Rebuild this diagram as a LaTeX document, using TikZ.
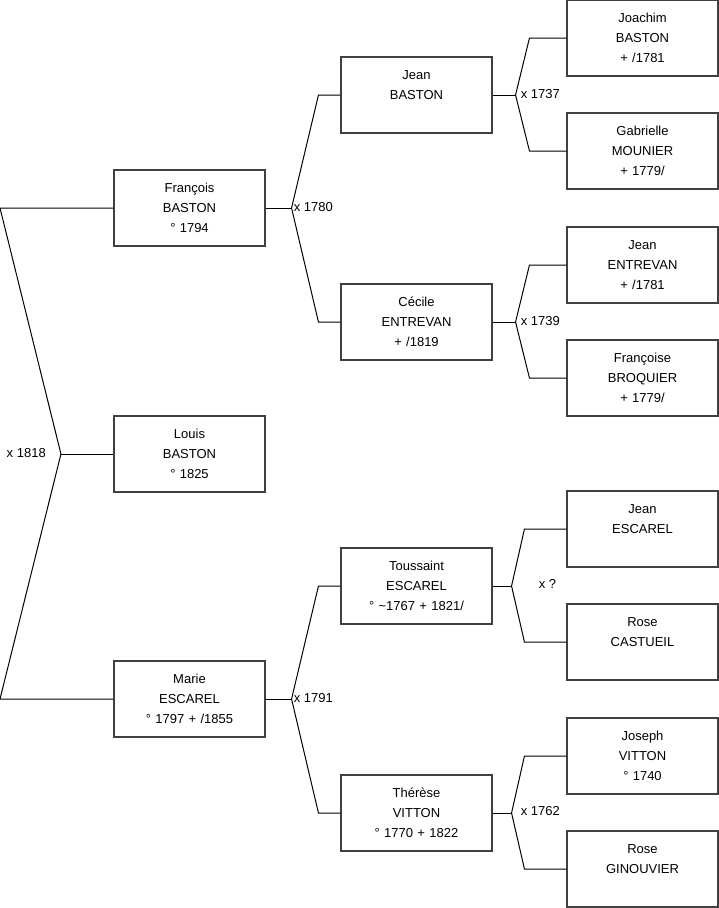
\documentclass[tikz,border=0pt]{standalone}
\usepackage{fontspec}
\setmainfont{Liberation Sans}
\usetikzlibrary{positioning, calc}

\newcommand{\personne}[3]{\strut#1\\#2\\\strut#3}

\begin{document}
\begin{tikzpicture}[
    x=1pt, y=-1pt,
    person/.style={
        rectangle,
        draw=black!75,
        fill=white,
        line width=1.1pt,
        text width=141pt,
        inner sep=5pt,
        minimum height=76pt,
        align=center,
        font=\fontsize{13pt}{20pt}\selectfont
    },
    union/.style={inner sep=0pt, font=\fontsize{13pt}{20pt}\selectfont},
    line/.style={draw=black, line width=1pt}
]
    \useasboundingbox (0,0) rectangle (719,908);

    % generation 1
    \node [person] (francois) at (189.5,208) {\personne{François}{BASTON}{° 1794}};
    \node [person] (louis) at (189.5,454) {\personne{Louis}{BASTON}{° 1825}};
    \node [person] (marie) at (189.5,699) {\personne{Marie}{ESCAREL}{° 1797 + /1855}};

    % generation 2
    \node [person] (jean) at (416.5,95) {\personne{Jean}{BASTON}{}};
    \node [person] (cecile) at (416.5,322) {\personne{Cécile}{ENTREVAN}{+ /1819}};
    \node [person] (toussaint) at (416.5,586) {\personne{Toussaint}{ESCAREL}{° \textasciitilde1767 + 1821/}};
    \node [person] (therese) at (416.5,813) {\personne{Thérèse}{VITTON}{° 1770 + 1822}};

    % generation 3
    \node [person] (joachim) at (642.5,38) {\personne{Joachim}{BASTON}{+ /1781}};
    \node [person] (gabrielle) at (642.5,151) {\personne{Gabrielle}{MOUNIER}{+ 1779/}};
    \node [person] (jeanE) at (642.5,265) {\personne{Jean}{ENTREVAN}{+ /1781}};
    \node [person] (francoise) at (642.5,378) {\personne{Françoise}{BROQUIER}{+ 1779/}};
    \node [person] (jeanS) at (642.5,529) {\personne{Jean}{ESCAREL}{}};
    \node [person] (rose) at (642.5,642) {\personne{Rose}{CASTUEIL}{}};
    \node [person] (joseph) at (642.5,756) {\personne{Joseph}{VITTON}{° 1740}};
    \node [person] (roseG) at (642.5,869) {\personne{Rose}{GINOUVIER}{}};

    % marriages
    \coordinate (m1818) at ([xshift=-52.5pt]louis.west);
    \coordinate (m1780) at ([xshift=26pt]francois.east);
    \coordinate (m1791) at ([xshift=26pt]marie.east);
    \coordinate (m1737) at ([xshift=23pt]jean.east);
    \coordinate (m1739) at ([xshift=23pt]cecile.east);
    \coordinate (mx) at ([xshift=19pt]toussaint.east);
    \coordinate (m1762) at ([xshift=19pt]therese.east);

    \path [line] (francois.west) -- (francois.west -| 0,0) -- (m1818) -- (marie.west -| 0,0) -- (marie.west);
    \path [line] (m1818) -- (louis.west);
    \node [union, anchor=east] (l1818) at ([xshift=-15pt, yshift=1pt]m1818) {x 1818};

    \path [line] (francois.east) -- (m1780);
    \path [line] (jean.west) -- ([xshift=-22pt]jean.west) -- (m1780) -- ([xshift=-22pt]cecile.west) -- (cecile.west);
    \node [union, anchor=west] (l1780) at ([xshift=2pt, yshift=1pt]m1780) {x 1780};

    \path [line] (marie.east) -- (m1791);
    \path [line] (toussaint.west) -- ([xshift=-22pt]toussaint.west) -- (m1791) -- ([xshift=-22pt]therese.west) -- (therese.west);
    \node [union, anchor=west] (l1791) at ([xshift=2pt, yshift=1pt]m1791) {x 1791};

    \path [line] (jean.east) -- (m1737);
    \path [line] (joachim.west) -- ([xshift=-37pt]joachim.west) -- (m1737) -- ([xshift=-37pt]gabrielle.west) -- (gabrielle.west);
    \node [union, anchor=west] (l1737) at ([xshift=5pt, yshift=1pt]m1737) {x 1737};

    \path [line] (cecile.east) -- (m1739);
    \path [line] (jeanE.west) -- ([xshift=-37pt]jeanE.west) -- (m1739) -- ([xshift=-37pt]francoise.west) -- (francoise.west);
    \node [union, anchor=west] (l1739) at ([xshift=5pt, yshift=1pt]m1739) {x 1739};

    \path [line] (toussaint.east) -- (mx);
    \path [line] (jeanS.west) -- ([xshift=-42pt]jeanS.west) -- (mx) -- ([xshift=-42pt]rose.west) -- (rose.west);
    \node [union, anchor=west] (lx) at ([xshift=27pt, yshift=2pt]mx) {x ?};

    \path [line] (therese.east) -- (m1762);
    \path [line] (joseph.west) -- ([xshift=-42pt]joseph.west) -- (m1762) -- ([xshift=-42pt]roseG.west) -- (roseG.west);
    \node [union, anchor=west] (l1762) at ([xshift=9pt, yshift=2pt]m1762) {x 1762};
\end{tikzpicture}
\end{document}
